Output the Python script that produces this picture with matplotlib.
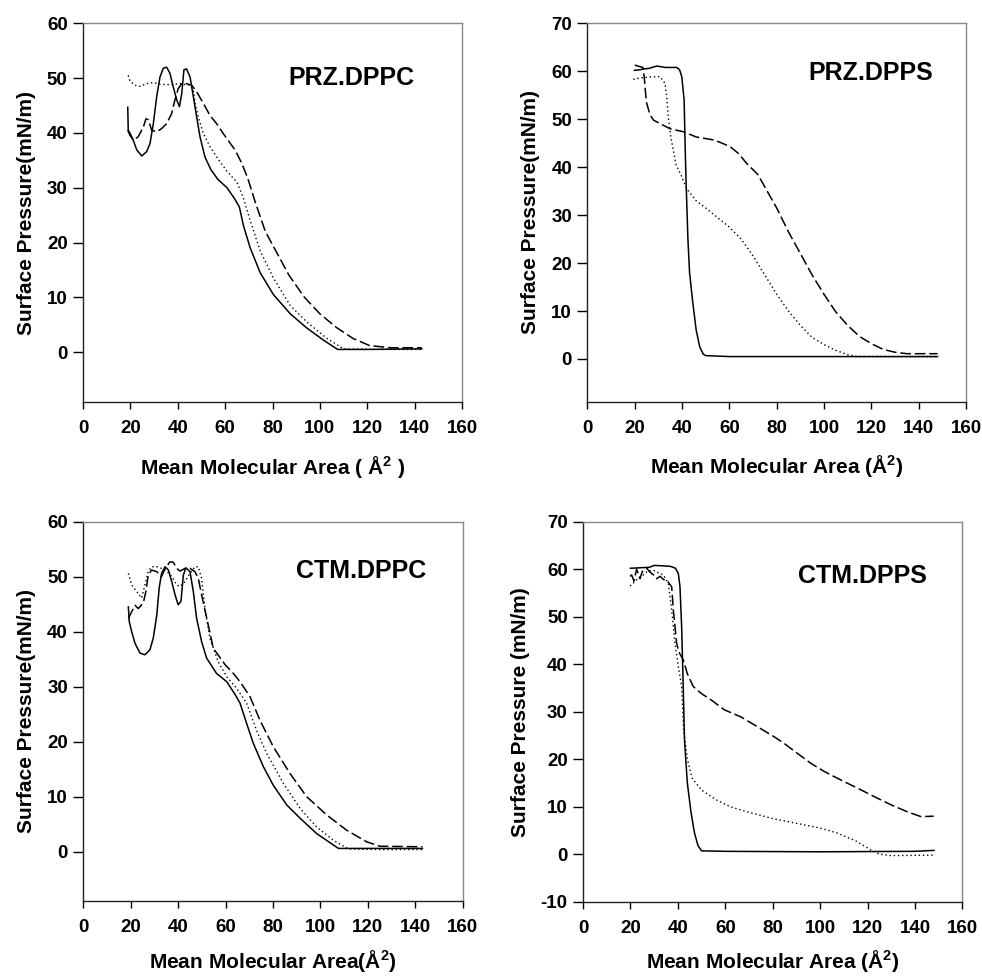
import matplotlib
matplotlib.use("Agg")
import matplotlib.pyplot as plt
import numpy as np

plt.rcParams['font.family'] = ['Liberation Sans', 'DejaVu Sans']
plt.rcParams['font.weight'] = 'bold'
plt.rcParams['axes.unicode_minus'] = False

# ---------------- Panel 1: PRZ.DPPC ----------------
p1_solid_x = [18.9, 19.1, 19.8, 21.2, 22.7, 24.8, 26.9, 28.3, 29.7, 31.1, 32.5, 33.9, 35.3, 36.7, 38.1, 39.6, 40.7, 41.7, 42.6, 43.7, 45.2, 46.6, 48.0, 49.4, 51.5, 54.0, 57.0, 60.8, 64.0, 66.0, 67.8, 70.6, 74.8, 80.4, 87.5, 94.5, 101.5, 107.5, 120.0, 143.0]
p1_solid_y = [44.7, 40.5, 40.0, 38.7, 36.9, 35.8, 36.6, 38.1, 41.7, 46.6, 50.2, 51.8, 52.0, 50.9, 48.4, 46.0, 44.8, 47.2, 51.5, 51.7, 50.2, 46.6, 42.9, 39.3, 35.6, 33.3, 31.5, 30.0, 28.0, 26.5, 23.0, 19.0, 14.5, 10.5, 7.0, 4.4, 2.2, 0.5, 0.5, 0.6]
p1_dot_x = [19.1, 19.8, 21.9, 24.0, 26.9, 29.7, 32.5, 36.7, 40.9, 45.2, 46.6, 47.3, 48.7, 50.8, 53.6, 57.1, 60.8, 65.0, 67.8, 70.6, 74.8, 80.4, 87.5, 94.5, 103.0, 110.0, 125.0, 143.0]
p1_dot_y = [50.5, 49.5, 48.7, 48.5, 49.0, 49.2, 48.9, 48.8, 49.0, 48.7, 47.8, 45.4, 42.9, 39.9, 37.5, 35.2, 33.0, 31.0, 28.0, 24.0, 18.5, 13.5, 8.5, 5.5, 2.5, 0.6, 0.5, 0.5]
p1_dash_x = [18.9, 19.8, 21.2, 23.3, 25.5, 26.6, 27.6, 29.0, 31.1, 33.2, 35.3, 37.4, 38.8, 40.2, 41.7, 43.7, 45.9, 48.0, 50.8, 53.6, 56.4, 59.2, 61.5, 64.2, 67.0, 69.5, 73.0, 77.0, 82.0, 87.0, 93.5, 100.0, 107.0, 114.0, 121.0, 130.0, 143.0]
p1_dash_y = [40.5, 39.6, 38.7, 39.3, 41.1, 42.6, 42.4, 40.5, 40.2, 40.8, 41.7, 43.5, 46.0, 48.1, 49.0, 49.0, 48.7, 47.5, 45.4, 43.2, 41.7, 39.9, 38.5, 36.9, 34.5, 31.8, 27.0, 22.0, 18.0, 14.0, 10.0, 7.0, 4.5, 2.5, 1.2, 0.8, 0.8]

# ---------------- Panel 2: PRZ.DPPS ----------------
p2_solid_x = [19.9, 22.0, 24.0, 26.0, 29.3, 33.0, 37.8, 39.0, 39.9, 40.9, 41.3, 41.7, 42.5, 43.2, 44.5, 46.0, 47.5, 49.0, 50.0, 60.0, 100.0, 148.0]
p2_solid_y = [60.2, 60.3, 60.5, 60.6, 61.1, 60.8, 60.8, 60.3, 58.9, 54.0, 45.0, 37.3, 25.0, 18.0, 12.0, 6.0, 2.5, 1.0, 0.7, 0.5, 0.5, 0.5]
p2_dot_x = [19.4, 22.0, 26.0, 30.7, 32.8, 33.5, 34.2, 35.2, 36.3, 37.5, 39.9, 42.0, 46.0, 50.0, 55.0, 60.0, 65.0, 70.0, 75.0, 80.0, 85.0, 90.0, 95.0, 100.0, 105.0, 110.0, 114.0, 148.0]
p2_dot_y = [58.3, 58.6, 58.8, 58.9, 57.5, 55.0, 50.5, 46.5, 43.6, 40.5, 38.0, 35.5, 33.0, 31.5, 29.5, 27.5, 25.0, 21.5, 17.5, 13.5, 10.0, 7.0, 4.5, 3.0, 1.8, 0.9, 0.5, 0.5]
p2_dash_x = [20.0, 22.0, 23.5, 24.0, 24.5, 25.0, 26.5, 28.0, 30.7, 35.0, 40.6, 46.0, 53.2, 56.0, 60.3, 64.0, 67.3, 72.0, 76.0, 80.0, 85.0, 90.0, 95.0, 100.0, 105.0, 110.0, 115.0, 120.0, 125.0, 130.0, 135.0, 148.0]
p2_dash_y = [61.3, 61.0, 60.8, 59.0, 56.0, 53.5, 50.9, 49.8, 49.1, 48.0, 47.4, 46.3, 45.7, 45.2, 44.3, 42.8, 40.8, 38.5, 35.0, 31.5, 26.5, 22.0, 17.5, 13.5, 9.8, 7.0, 4.7, 3.2, 2.0, 1.4, 1.1, 1.1]

# ---------------- Panel 3: CTM.DPPC ----------------
p3_solid_x = [19.0, 19.4, 20.4, 21.8, 23.9, 26.0, 28.1, 29.5, 31.0, 32.0, 33.0, 34.5, 35.9, 37.3, 38.7, 40.0, 41.2, 42.2, 43.3, 45.0, 46.4, 47.8, 49.9, 52.0, 56.2, 60.5, 64.0, 66.1, 68.9, 71.7, 75.9, 80.1, 85.8, 91.4, 98.4, 107.6, 120.0, 143.0]
p3_solid_y = [44.5, 41.8, 40.0, 37.9, 36.1, 35.8, 36.7, 38.8, 43.0, 47.9, 50.6, 51.8, 51.2, 49.1, 46.7, 44.9, 45.5, 50.3, 51.6, 50.9, 47.3, 42.4, 38.2, 35.2, 32.4, 30.9, 28.6, 27.0, 23.3, 19.7, 15.5, 12.1, 8.5, 6.1, 3.3, 0.6, 0.6, 0.6]
p3_dot_x = [19.0, 20.4, 22.5, 24.6, 26.0, 27.4, 28.8, 31.0, 33.0, 35.2, 37.3, 39.4, 40.8, 42.9, 45.0, 47.1, 48.5, 49.9, 51.3, 53.4, 56.9, 60.5, 64.5, 68.9, 73.1, 77.3, 84.4, 91.4, 98.4, 105.4, 111.8, 125.0, 143.0]
p3_dot_y = [50.6, 48.5, 47.3, 46.1, 48.5, 50.9, 51.8, 51.8, 51.5, 51.0, 50.0, 48.5, 48.2, 49.1, 50.6, 51.8, 51.8, 49.7, 44.2, 38.8, 34.5, 31.8, 29.8, 27.0, 22.0, 17.9, 12.4, 7.9, 4.5, 2.1, 0.5, 0.4, 0.4]
p3_dash_x = [19.0, 20.4, 21.8, 23.2, 25.3, 26.4, 27.4, 28.8, 31.0, 33.0, 34.5, 36.6, 38.0, 39.4, 40.8, 42.9, 45.0, 47.1, 48.5, 49.9, 52.7, 54.8, 59.8, 63.3, 66.1, 70.3, 74.5, 80.1, 87.2, 94.2, 102.6, 111.1, 119.5, 125.1, 143.0]
p3_dash_y = [42.4, 43.6, 44.8, 44.2, 45.2, 47.3, 50.3, 51.2, 50.9, 50.0, 51.5, 52.7, 52.6, 51.5, 51.0, 51.5, 51.5, 50.9, 49.7, 46.7, 41.2, 37.0, 34.0, 32.4, 30.9, 28.2, 23.9, 19.1, 14.2, 10.0, 6.7, 3.9, 1.8, 1.0, 0.9]

# ---------------- Panel 4: CTM.DPPS ----------------
p4_solid_x = [20.0, 24.0, 28.0, 30.0, 34.0, 36.9, 39.0, 40.2, 40.9, 41.6, 42.3, 42.8, 44.0, 45.5, 47.0, 48.5, 50.0, 60.0, 100.0, 140.0, 148.0]
p4_solid_y = [60.2, 60.3, 60.4, 60.8, 60.7, 60.6, 60.2, 59.1, 56.3, 47.9, 34.6, 24.0, 15.0, 9.0, 4.5, 1.8, 0.7, 0.6, 0.5, 0.6, 0.8]
p4_dot_x = [19.8, 20.5, 23.0, 25.4, 27.0, 29.7, 31.5, 33.9, 36.0, 37.4, 38.8, 40.2, 41.6, 42.5, 44.0, 46.0, 50.0, 56.0, 62.0, 70.0, 80.0, 90.0, 100.0, 107.0, 115.0, 121.0, 125.0, 130.0, 148.0]
p4_dot_y = [56.5, 56.7, 58.0, 58.8, 59.5, 59.8, 59.3, 58.8, 57.0, 51.4, 44.4, 39.5, 35.3, 26.0, 20.0, 16.0, 13.5, 11.5, 10.0, 8.8, 7.5, 6.5, 5.5, 4.5, 2.8, 1.0, 0.0, -0.3, -0.2]
p4_dash_x = [19.8, 20.5, 21.5, 22.6, 24.0, 25.0, 26.9, 28.0, 29.7, 31.0, 32.5, 34.0, 35.3, 37.4, 38.1, 39.5, 40.5, 42.3, 44.0, 46.5, 50.0, 54.0, 59.6, 66.6, 73.7, 80.7, 84.9, 90.5, 96.2, 101.8, 108.8, 115.8, 122.9, 129.9, 136.9, 142.6, 147.9]
p4_dash_y = [58.5, 58.8, 57.5, 60.0, 58.0, 59.5, 60.2, 59.5, 58.8, 58.0, 58.5, 57.8, 57.7, 56.3, 51.4, 44.4, 42.5, 40.9, 38.0, 35.3, 33.8, 32.5, 30.4, 28.9, 26.8, 24.7, 23.3, 21.2, 19.1, 17.4, 15.6, 13.9, 12.1, 10.4, 8.9, 7.9, 8.0]

titles = ["PRZ.DPPC", "PRZ.DPPS", "CTM.DPPC", "CTM.DPPS"]
ylabels = ["Surface Pressure(mN/m)", "Surface Pressure(mN/m)",
           "Surface Pressure(mN/m)", "Surface Pressure (mN/m)"]
xlabels = ["Mean Molecular Area ( Å$^{\\mathbf{2}}$ )", "Mean Molecular Area (Å$^{\\mathbf{2}}$)",
           "Mean Molecular Area(Å$^{\\mathbf{2}}$)", "Mean Molecular Area (Å$^{\\mathbf{2}}$)"]
ylims = [(-9.1, 60), (-8.9, 70), (-8.9, 60), (-10, 70)]
yticks = [np.arange(0, 61, 10), np.arange(0, 71, 10), np.arange(0, 61, 10), np.arange(-10, 71, 10)]
xticks = np.arange(0, 161, 20)
xlabelpads = [12, 12, 9, 8]

positions = [
    [0.0845, 0.5885, 0.3860, 0.3876],
    [0.5981, 0.5889, 0.3856, 0.3872],
    [0.0848, 0.0781, 0.3864, 0.3880],
    [0.5937, 0.0771, 0.3863, 0.3889],
]
title_pos = [(0.707, 0.855), (0.749, 0.869), (0.733, 0.870), (0.736, 0.858)]

data = [
    (p1_solid_x, p1_solid_y, p1_dot_x, p1_dot_y, p1_dash_x, p1_dash_y),
    (p2_solid_x, p2_solid_y, p2_dot_x, p2_dot_y, p2_dash_x, p2_dash_y),
    (p3_solid_x, p3_solid_y, p3_dot_x, p3_dot_y, p3_dash_x, p3_dash_y),
    (p4_solid_x, p4_solid_y, p4_dot_x, p4_dot_y, p4_dash_x, p4_dash_y),
]

plt.rcParams['mathtext.fontset'] = 'custom'
plt.rcParams['mathtext.bf'] = 'Liberation Sans:bold'
plt.rcParams['mathtext.rm'] = 'Liberation Sans:bold'
plt.rcParams['mathtext.default'] = 'bf'

fig = plt.figure(figsize=(9.82, 9.77), dpi=100)
for i in range(4):
    ax = fig.add_axes(positions[i])
    sx, sy, dx, dy, ddx, ddy = data[i]
    ax.plot(sx, sy, color='black', lw=1.1, ls='-')
    ax.plot(dx, dy, color='black', lw=1.0, ls=(0, (1, 2)))
    ax.plot(ddx, ddy, color='black', lw=1.1, ls=(0, (7, 2.5)))
    ax.set_xlim(0, 160)
    ax.set_ylim(*ylims[i])
    ax.set_xticks(xticks)
    ax.set_yticks(yticks[i])
    for s in ['top', 'right']:
        ax.spines[s].set_color('#888888')
        ax.spines[s].set_linewidth(1.0)
    for s in ['left', 'bottom']:
        ax.spines[s].set_color('#222222')
        ax.spines[s].set_linewidth(1.0)
    ax.tick_params(axis='x', direction='out', length=5, width=1, pad=8, labelsize=13.5)
    ax.tick_params(axis='y', direction='out', length=7, width=1, pad=4, labelsize=13.5)
    for lab in ax.get_xticklabels() + ax.get_yticklabels():
        lab.set_fontweight('bold')
    ax.set_ylabel(ylabels[i], fontsize=15, fontweight='bold', labelpad=8)
    ax.set_xlabel(xlabels[i], fontsize=15, fontweight='bold', labelpad=xlabelpads[i])
    ax.text(title_pos[i][0], title_pos[i][1], titles[i], transform=ax.transAxes,
            ha='center', va='center', fontsize=18, fontweight='bold')

fig.savefig('out.png', dpi=100)
